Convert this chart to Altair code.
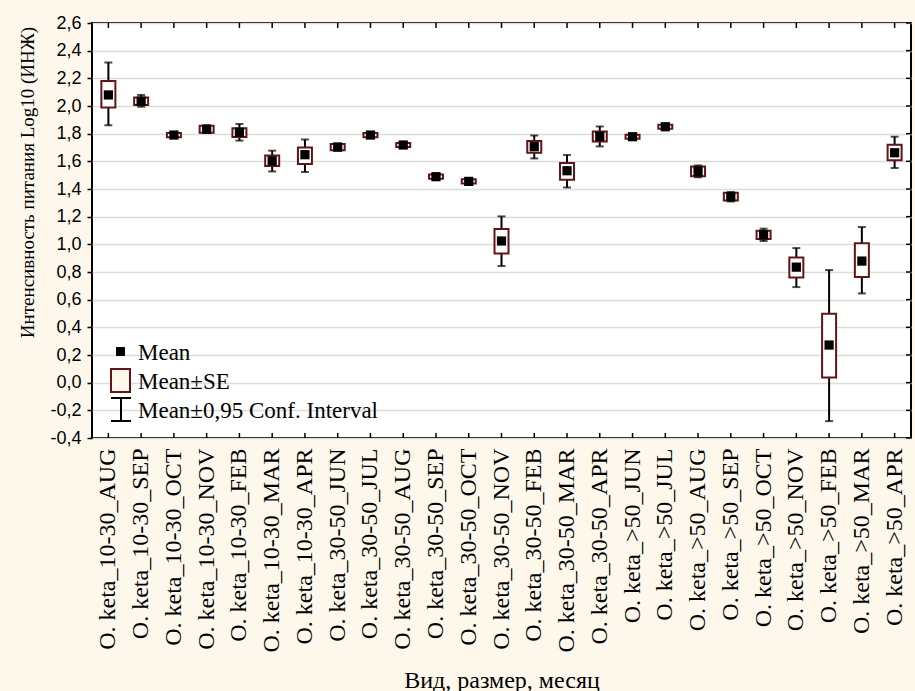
import altair as alt
import pandas as pd

categories = [
    "O. keta_10-30_AUG", "O. keta_10-30_SEP", "O. keta_10-30_OCT", "O. keta_10-30_NOV",
    "O. keta_10-30_FEB", "O. keta_10-30_MAR", "O. keta_10-30_APR",
    "O. keta_30-50_JUN", "O. keta_30-50_JUL", "O. keta_30-50_AUG", "O. keta_30-50_SEP",
    "O. keta_30-50_OCT", "O. keta_30-50_NOV", "O. keta_30-50_FEB", "O. keta_30-50_MAR",
    "O. keta_30-50_APR",
    "O. keta_>50_JUN", "O. keta_>50_JUL", "O. keta_>50_AUG", "O. keta_>50_SEP",
    "O. keta_>50_OCT", "O. keta_>50_NOV", "O. keta_>50_FEB", "O. keta_>50_MAR",
    "O. keta_>50_APR",
]
means = [2.08, 2.035, 1.79, 1.832, 1.81, 1.604, 1.648,
         1.703, 1.79, 1.718, 1.489, 1.455, 1.024, 1.706, 1.532, 1.78,
         1.778, 1.85, 1.527, 1.344, 1.069, 0.835, 0.272, 0.879, 1.662]
se_low = [1.99, 2.007, 1.775, 1.807, 1.776, 1.566, 1.58,
          1.68, 1.775, 1.703, 1.474, 1.44, 0.934, 1.662, 1.467, 1.744,
          1.763, 1.835, 1.492, 1.316, 1.039, 0.761, 0.038, 0.763, 1.607]
se_high = [2.18, 2.062, 1.805, 1.857, 1.84, 1.643, 1.70,
           1.726, 1.805, 1.733, 1.504, 1.47, 1.11, 1.747, 1.588, 1.816,
           1.793, 1.865, 1.562, 1.372, 1.099, 0.905, 0.498, 1.007, 1.72]
ci_low = [1.86, 1.995, 1.772, 1.805, 1.75, 1.527, 1.523,
          1.678, 1.772, 1.70, 1.47, 1.437, 0.843, 1.621, 1.411, 1.708,
          1.76, 1.83, 1.485, 1.31, 1.024, 0.691, -0.278, 0.645, 1.552]
ci_high = [2.315, 2.08, 1.808, 1.86, 1.87, 1.677, 1.758,
           1.728, 1.808, 1.736, 1.507, 1.473, 1.202, 1.787, 1.646, 1.852,
           1.796, 1.87, 1.57, 1.378, 1.113, 0.973, 0.814, 1.125, 1.778]
y_ticks = [-0.4, -0.2, 0.0, 0.2, 0.4, 0.6, 0.8, 1.0, 1.2, 1.4, 1.6, 1.8, 2.0, 2.2, 2.4, 2.6]
legend_labels = ["Mean", "Mean±SE", "Mean±0,95 Conf. Interval"]

df = pd.DataFrame({"cat": categories, "mean": means, "se_lo": se_low, "se_hi": se_high,
                   "ci_lo": ci_low, "ci_hi": ci_high})
tick_df = pd.DataFrame({"t": y_ticks})
dummy = pd.DataFrame({"a": [1]})

W, H = 819, 415
BG = "#FEF8EC"
MAROON = "#641414"
SERIF = "Liberation Serif"

x_axis = alt.Axis(labelAngle=-90, labelAlign="right", labelBaseline="middle",
                  labelFont=SERIF, labelFontSize=24, labelColor="black", labelPadding=10,
                  labelLimit=400, labelOverlap=False, ticks=False, domain=False,
                  titleFont=SERIF, titleFontSize=24, titleFontWeight="normal",
                  titleColor="black", titleY=249, titleBaseline="alphabetic")
x_enc = alt.X("cat:N", sort=categories, title="Вид, размер, месяц",
              scale=alt.Scale(paddingInner=0, paddingOuter=0), axis=x_axis)

y_scale = alt.Scale(domain=[-0.4, 2.6], nice=False, zero=False)
y_title = "Интенсивность питания Log10 (ИНЖ)"
y_axis = alt.Axis(values=y_ticks,
                  labelExpr="replace(replace(format(datum.value, '.1f'), '.', ','), '\u2212', '-')",
                  labelFont="Liberation Sans", labelFontSize=18, labelColor="black",
                  labelPadding=6, tickSize=5, tickColor="black", tickWidth=1.5,
                  domain=False, grid=True, gridColor="#DCDCDC", gridWidth=1.5,
                  titleFont=SERIF, titleFontSize=19, titleFontWeight="normal",
                  titleColor="black", titleX=-65, titleY=159, titleAlign="center",
                  titleBaseline="middle")


def Y(field):
    return alt.Y(field, scale=y_scale, axis=y_axis, title=y_title)


base = alt.Chart(df)
whisk = base.mark_rule(color="black", strokeWidth=2).encode(x=x_enc, y=Y("ci_lo:Q"), y2="ci_hi:Q")
box = base.mark_bar(size=14, fill="white", stroke=MAROON, strokeWidth=2).encode(
    x=x_enc, y=Y("se_lo:Q"), y2="se_hi:Q")
cap_lo = base.mark_tick(size=8, thickness=2, color="black").encode(x=x_enc, y=Y("ci_lo:Q"))
cap_hi = base.mark_tick(size=8, thickness=2, color="black").encode(x=x_enc, y=Y("ci_hi:Q"))
mean_pt = base.mark_square(size=85, color="black", opacity=1).encode(x=x_enc, y=Y("mean:Q"))

top_ticks = base.mark_rule(color="black", strokeWidth=1.5).encode(
    x=x_enc, y=alt.value(0), y2=alt.value(5))
bot_ticks = base.mark_rule(color="black", strokeWidth=1.5).encode(
    x=x_enc, y=alt.value(H - 5), y2=alt.value(H))
right_ticks = alt.Chart(tick_df).mark_rule(color="black", strokeWidth=1.5).encode(
    y=Y("t:Q"), x=alt.value(W - 5), x2=alt.value(W))

d = alt.Chart(dummy)
leg_sq = d.mark_square(size=80, color="black", opacity=1).encode(x=alt.value(28.5), y=alt.value(328.5))
leg_box = d.mark_rect(fill=BG, stroke=MAROON, strokeWidth=2).encode(
    x=alt.value(19), x2=alt.value(38), y=alt.value(346), y2=alt.value(369))
leg_v = d.mark_rule(color="black", strokeWidth=2).encode(
    x=alt.value(29), y=alt.value(375), y2=alt.value(398))
leg_c1 = d.mark_rule(color="black", strokeWidth=2).encode(
    x=alt.value(19), x2=alt.value(39), y=alt.value(375))
leg_c2 = d.mark_rule(color="black", strokeWidth=2).encode(
    x=alt.value(19), x2=alt.value(39), y=alt.value(398))
leg_texts = [
    d.mark_text(text=lab, align="left", baseline="alphabetic", font=SERIF,
                fontSize=23, color="black").encode(x=alt.value(46), y=alt.value(yy))
    for lab, yy in zip(legend_labels, [337, 366, 395])
]

chart = alt.layer(
    whisk, box, cap_lo, cap_hi, mean_pt, top_ticks, bot_ticks, right_ticks,
    leg_sq, leg_box, leg_v, leg_c1, leg_c2, *leg_texts
).properties(
    width=W, height=H,
    padding={"left": 92, "top": 23, "right": 4, "bottom": 253},
    autosize=alt.AutoSizeParams(type="none"),
    background=BG,
).configure_view(stroke="black", strokeWidth=2, fill="white")

chart.save("out.html", embed_options={"renderer": "svg", "actions": False})
